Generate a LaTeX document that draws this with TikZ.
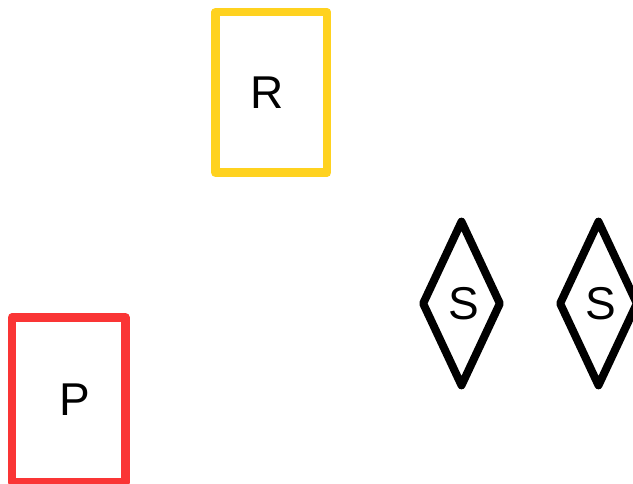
\documentclass[tikz,border=0pt]{standalone}
\usepackage{fontspec}
\setmainfont{Liberation Sans}
\usepackage{tikz}
\usetikzlibrary{shapes.geometric}
\definecolor{rcol}{HTML}{FFD21F} % yellow box
\definecolor{pcol}{HTML}{FA3535} % red box

\begin{document}
\begin{tikzpicture}[x=1pt, y=-1pt,
    box/.style={draw, line width=8.5pt, line join=round, inner sep=0pt,
        font=\fontsize{46}{55}\selectfont},
    rhomb/.style={diamond, draw=black, line width=8pt, line join=round, inner sep=0pt,
        minimum width=80pt, minimum height=167pt, font=\fontsize{46}{55}\selectfont}]
    \useasboundingbox (0,0) rectangle (633,484);

    % boxes %%%%%%%%%%%%%%%%%%%%%%%%%%%%%%%%%%%%%%%%
    \node[box, draw=rcol, minimum width=111.5pt, minimum height=160.5pt] (r) at (271.2, 92.5) {R\kern9pt};
    \node[box, draw=pcol, minimum width=113.3pt, minimum height=165.2pt] (p) at (68.7, 400) {\kern12pt P};

    % diamonds %%%%%%%%%%%%%%%%%%%%%%%%%%%%%%%%%%%%%
    \node[rhomb] (s1) at (461.5, 303.5) {\kern4pt S};
    \node[rhomb] (s2) at (598.5, 303.5) {\kern4pt S};
\end{tikzpicture}
\end{document}
